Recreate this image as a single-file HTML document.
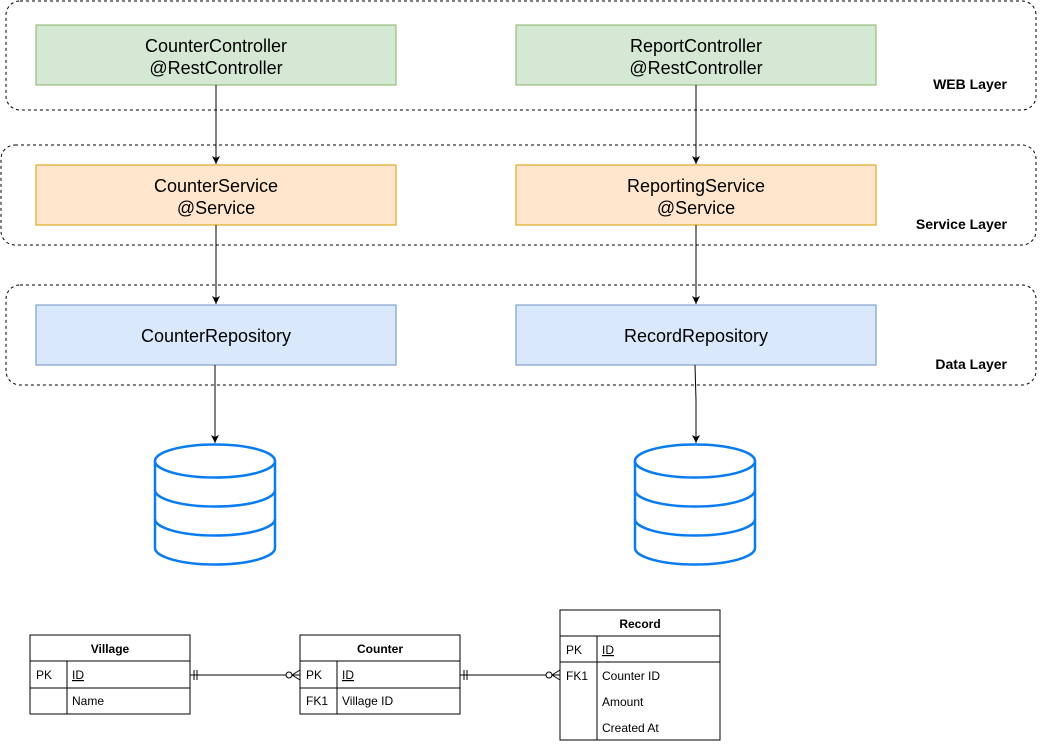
<!DOCTYPE html>
<html><head><meta charset="utf-8"><style>
html,body{margin:0;padding:0;background:#fff;}
svg{display:block;font-family:"Liberation Sans",Helvetica,Arial,sans-serif;}
</style></head><body>
<svg width="1046" height="744" viewBox="0 0 1046 744" xmlns="http://www.w3.org/2000/svg">
<defs>
<marker id="ah" markerWidth="10" markerHeight="10" refX="8" refY="4" orient="auto" markerUnits="userSpaceOnUse">
<path d="M0,0 L8,4 L0,8 L2,4 Z" fill="#000"/>
</marker>
</defs>
<rect x="6" y="1" width="1030" height="109" rx="14" fill="none" stroke="#000" stroke-dasharray="3,3"/>
<rect x="1" y="145" width="1035" height="100" rx="14" fill="none" stroke="#000" stroke-dasharray="3,3"/>
<rect x="6" y="285" width="1030" height="100" rx="14" fill="none" stroke="#000" stroke-dasharray="3,3"/>
<g font-weight="bold" font-size="14" text-anchor="end">
<text x="1007" y="89">WEB Layer</text>
<text x="1007" y="229">Service Layer</text>
<text x="1007" y="369">Data Layer</text>
</g>
<rect x="36" y="25" width="360" height="60" fill="#d5e8d4" stroke="#82b366"/>
<rect x="516" y="25" width="360" height="60" fill="#d5e8d4" stroke="#82b366"/>
<rect x="36" y="165" width="360" height="60" fill="#ffe6cc" stroke="#d79b00"/>
<rect x="516" y="165" width="360" height="60" fill="#ffe6cc" stroke="#d79b00"/>
<rect x="36" y="305" width="360" height="60" fill="#dae8fc" stroke="#6c8ebf"/>
<rect x="516" y="305" width="360" height="60" fill="#dae8fc" stroke="#6c8ebf"/>
<g font-size="18" text-anchor="middle" fill="#000">
<text x="216" y="52">CounterController</text><text x="216" y="74">@RestController</text>
<text x="696" y="52">ReportController</text><text x="696" y="74">@RestController</text>
<text x="216" y="192">CounterService</text><text x="216" y="214">@Service</text>
<text x="696" y="192">ReportingService</text><text x="696" y="214">@Service</text>
<text x="216" y="342">CounterRepository</text>
<text x="696" y="342">RecordRepository</text>
</g>
<g stroke="#000" stroke-width="1" fill="none" marker-end="url(#ah)">
<line x1="216" y1="85" x2="216" y2="164"/>
<line x1="696" y1="85" x2="696" y2="164"/>
<line x1="216" y1="225" x2="216" y2="304"/>
<line x1="696" y1="225" x2="696" y2="304"/>
<line x1="215" y1="365" x2="215" y2="443"/>
<path d="M695,365 L696,400 L696,443"/>
</g>
<g fill="none" stroke="#0a7cf0" stroke-width="2.5">
<g>
<ellipse cx="215" cy="461" rx="60" ry="16.5"/>
<path d="M155,461 L155,548 A60,16.5 0 0 0 275,548 L275,461"/>
<path d="M155,490 A60,16.5 0 0 0 275,490"/>
<path d="M155,519 A60,16.5 0 0 0 275,519"/>
</g>
<g transform="translate(480,0)">
<ellipse cx="215" cy="461" rx="60" ry="16.5"/>
<path d="M155,461 L155,548 A60,16.5 0 0 0 275,548 L275,461"/>
<path d="M155,490 A60,16.5 0 0 0 275,490"/>
<path d="M155,519 A60,16.5 0 0 0 275,519"/>
</g>
</g>
<g stroke="#000" stroke-width="1" fill="#fff">
<rect x="30" y="635" width="160" height="79"/>
<line x1="30" y1="661" x2="190" y2="661"/><line x1="30" y1="688" x2="190" y2="688"/>
<line x1="67" y1="661" x2="67" y2="714"/>
<rect x="300" y="635" width="160" height="79"/>
<line x1="300" y1="661" x2="460" y2="661"/><line x1="300" y1="688" x2="460" y2="688"/>
<line x1="337" y1="661" x2="337" y2="714"/>
<rect x="560" y="610" width="160" height="130"/>
<line x1="560" y1="636" x2="720" y2="636"/><line x1="560" y1="662" x2="720" y2="662"/>
<line x1="597" y1="636" x2="597" y2="740"/>
</g>
<g font-size="12" fill="#000">
<g font-weight="bold" text-anchor="middle">
<text x="110" y="653">Village</text><text x="380" y="653">Counter</text><text x="640" y="628">Record</text>
</g>
<text x="36" y="679">PK</text><text x="72" y="679" text-decoration="underline">ID</text>
<text x="72" y="705">Name</text>
<text x="306" y="679">PK</text><text x="342" y="679" text-decoration="underline">ID</text>
<text x="306" y="705">FK1</text><text x="342" y="705">Village ID</text>
<text x="566" y="654">PK</text><text x="602" y="654" text-decoration="underline">ID</text>
<text x="566" y="680">FK1</text><text x="602" y="680">Counter ID</text>
<text x="602" y="706">Amount</text>
<text x="602" y="732">Created At</text>
</g>
<g stroke="#000" stroke-width="1" fill="none">
<line x1="190" y1="675" x2="286" y2="675"/>
<line x1="194" y1="670" x2="194" y2="680"/><line x1="197" y1="670" x2="197" y2="680"/>
<circle cx="289" cy="675" r="3" fill="#fff"/>
<path d="M292,675 L300,670 M292,675 L300,680 M292,675 L300,675"/>
<line x1="460" y1="675" x2="546" y2="675"/>
<line x1="464" y1="670" x2="464" y2="680"/><line x1="467" y1="670" x2="467" y2="680"/>
<circle cx="549" cy="675" r="3" fill="#fff"/>
<path d="M552,675 L560,670 M552,675 L560,680 M552,675 L560,675"/>
</g>
</svg>
</body></html>
